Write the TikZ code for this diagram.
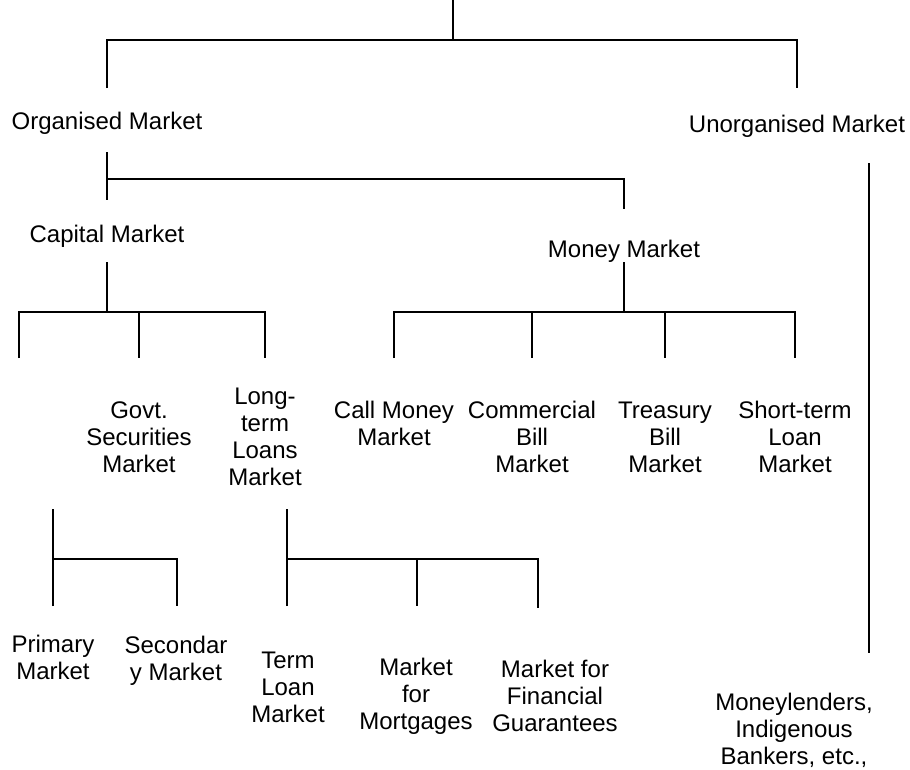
\documentclass[tikz,border=0pt]{standalone}
\usepackage{fontspec}
\setmainfont{Liberation Sans}
\usetikzlibrary{calc}
\tikzset{
  lbl/.style  ={align=center, inner sep=0pt, font=\fontsize{18}{20.25}\selectfont},
  link/.style ={draw=black, line width=1.4pt},
}
\begin{document}
\begin{tikzpicture}[x=0.75pt,y=-0.75pt]
\useasboundingbox (0,0) rectangle (910,769);
% markets
\node[lbl] (org)   at (107,123) {Organised Market};
\node[lbl] (unorg) at (797,126) {Unorganised Market};
\node[lbl] (cap)   at (107,236) {Capital Market};
\node[lbl] (money) at (624,251) {Money Market};
\node[lbl] (govt)  at (139,437) {Govt.\\Securities\\Market};
\node[lbl] (long)  at (265,437) {Long-\\term\\Loans\\Market};
\node[lbl] (call)  at (394,423) {Call Money\\Market};
\node[lbl] (comm)  at (532,437) {Commercial\\Bill\\Market};
\node[lbl] (treas) at (665,437) {Treasury\\Bill\\Market};
\node[lbl] (short) at (795,437) {Short-term\\Loan\\Market};
\node[lbl] (prim)  at (53,657)  {Primary\\Market};
\node[lbl] (sec)   at (176,661) {Secondar\\y Market};
\node[lbl] (term)  at (288,687) {Term\\Loan\\Market};
\node[lbl] (mort)  at (416,696) {Market\\for\\Mortgages};
\node[lbl] (fin)   at (555,696) {Market for\\Financial\\Guarantees};
\node[lbl] (lend)  at (794,730) {Moneylenders,\\Indigenous\\Bankers, etc.,};
% bus points and free ends
\coordinate (top)  at (453,0);
\coordinate (b0)   at (453,40);
\coordinate (b1)   at (107,179);
\coordinate (b2)   at (107,312);
\coordinate (b3)   at (624,312);
\coordinate (b4)   at (53,559);
\coordinate (b5)   at (287,559);
\coordinate (eq)   at (19,358);
\coordinate (u1)   at (869,163);
\coordinate (u2)   at (869,653);
% top level
\draw[link] (top) -- (b0);
\draw[link] (org |- 0,88) |- (b0) -| (unorg |- 0,88);
% organised market
\draw[link] (org |- 0,152) -- (org |- 0,200);
\draw[link] (b1) -| (money |- 0,209);
% capital market
\draw[link] (cap |- 0,262) -- (b2);
\draw[link] (eq) |- (long |- b2) -- (long |- 0,358);
\draw[link] (govt |- b2) -- (govt |- 0,358);
% money market
\draw[link] (money |- 0,262) -- (b3);
\draw[link] (call |- 0,358) |- (short |- b3) -- (short |- 0,358);
\foreach \n in {comm,treas}
  \draw[link] (\n |- b3) -- (\n |- 0,358);
% unorganised market
\draw[link] (u1) -- (u2);
% lower brackets
\draw[link] (53,509) -- (b4);
\draw[link] (53,606) |- (177,559) -- (177,606);
\draw[link] (287,509) -- (b5);
\draw[link] (287,606) |- (538,559) -- (538,608);
\draw[link] (417,559) -- (417,606);
\end{tikzpicture}
\end{document}
